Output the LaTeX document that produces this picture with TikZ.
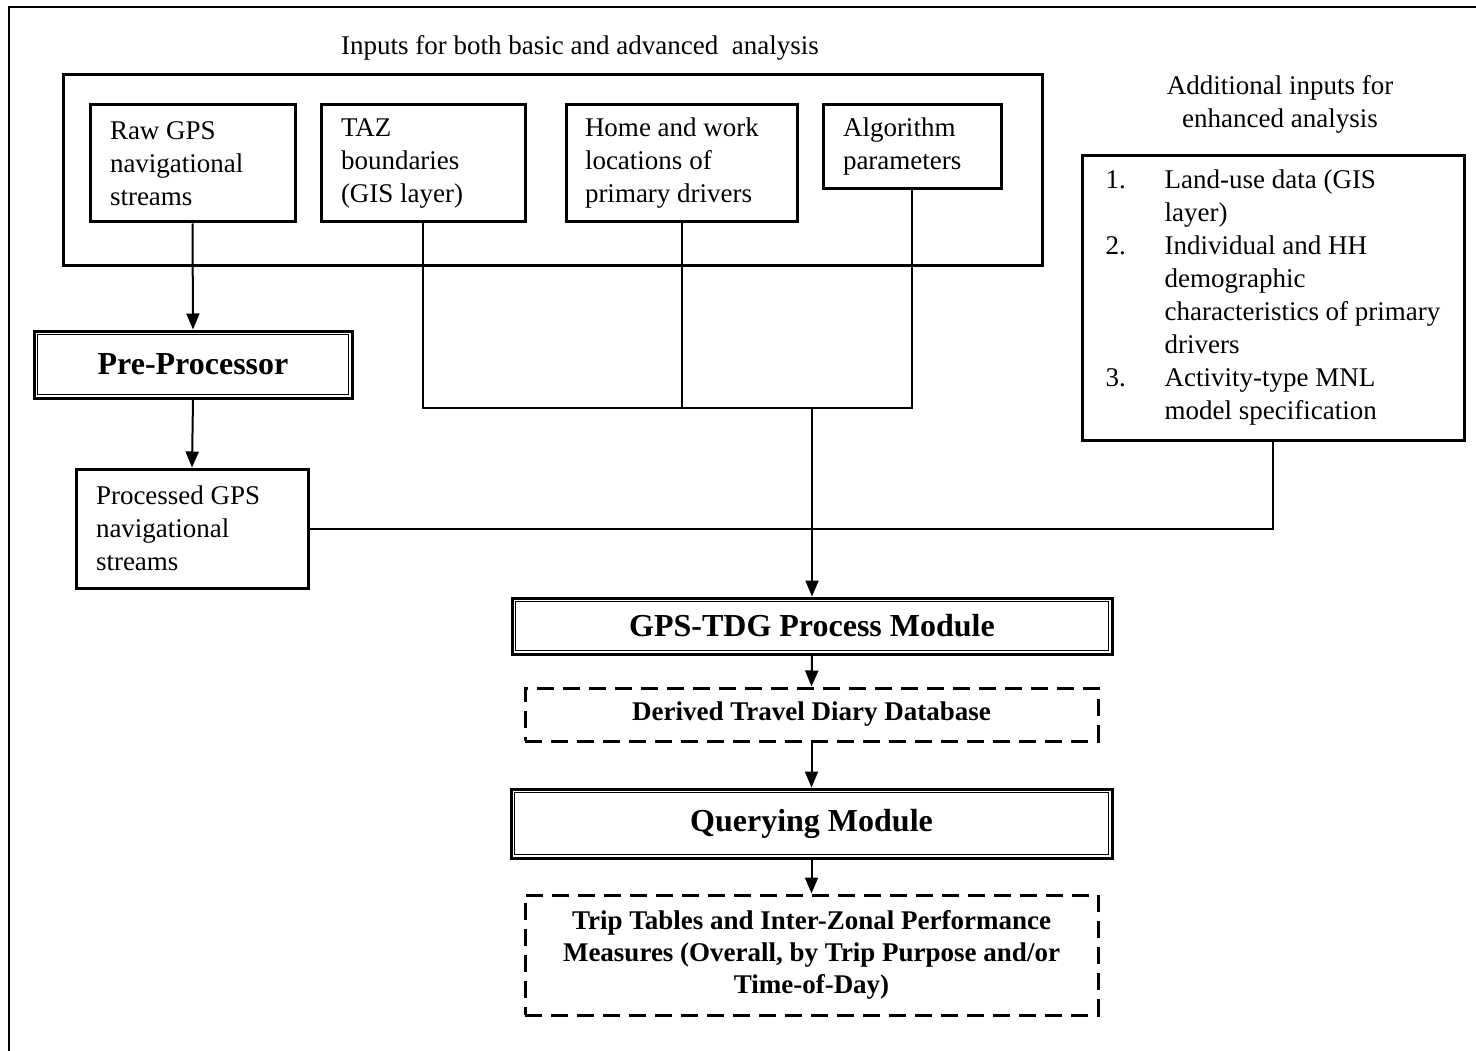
\documentclass[tikz,border=0pt]{standalone}
\usepackage{fontspec}
\setmainfont{Liberation Serif}
\usetikzlibrary{arrows.meta}

\begin{document}
\begin{tikzpicture}[x=1pt, y=-1pt,
    every node/.style={inner sep=0pt, font=\fontsize{27}{33}\selectfont},
    inbox/.style={draw, line width=3pt, align=flush left},
    module/.style={draw, line width=3pt, font=\bfseries\fontsize{32}{38}\selectfont,
        append after command={\pgfextra{\draw[line width=1.5pt]
            ([shift={(5,5)}]\tikzlastnode.north west) rectangle
            ([shift={(-5,-5)}]\tikzlastnode.south east);}}},
    dashbox/.style={draw, line width=3pt, dash pattern=on 17pt off 9pt,
        align=center, font=\bfseries\fontsize{27}{32}\selectfont},
    link/.style={draw, line width=2pt},
    arr/.style={link, -{Triangle[width=13pt,length=16pt]}}
]
    \useasboundingbox (0,0) rectangle (1476,1051);
    \draw[line width=2pt] (9,1051) -- (9,7) -- (1476,7);

    % Inputs for both basic and advanced analysis
    \node (basictitle) at (580,48) {Inputs for both basic and advanced\ \ analysis};
    \node[draw, line width=3pt, minimum width=979pt, minimum height=191pt] (basic) at (552.5,170.5) {};
    \node[inbox, minimum width=205pt, minimum height=117pt, text width=165pt] (raw) at (192.5,163.5)
        {Raw GPS\\navigational\\streams};
    \node[inbox, minimum width=204pt, minimum height=117pt, text width=164pt] (taz) at (423,163.5)
        {TAZ\\boundaries\\(GIS layer)};
    \node[inbox, minimum width=231pt, minimum height=117pt, text width=193pt] (home) at (681.5,163.5)
        {Home and work\\locations of\\primary drivers};
    \node[inbox, minimum width=178pt, minimum height=84pt, text width=138pt] (algo) at (912,147)
        {Algorithm\\parameters};

    % Additional inputs for enhanced analysis
    \node[align=center] (extratitle) at (1280,104) {Additional inputs for\\enhanced analysis};
    \node[inbox, minimum width=382pt, minimum height=284pt] (extra) at (1273,298)
        {\makebox[59pt][l]{1.}Land-use data (GIS\\\hspace*{59pt}layer)\\
         \makebox[59pt][l]{2.}Individual and HH\\\hspace*{59pt}demographic\\
         \hspace*{59pt}characteristics of primary\\\hspace*{59pt}drivers\\
         \makebox[59pt][l]{3.}Activity-type MNL\\\hspace*{59pt}model specification};

    % Pre-processing
    \node[module, minimum width=318pt, minimum height=67pt] (pre) at (193,364.5) {Pre-Processor};
    \node[inbox, minimum width=232pt, minimum height=119pt, text width=192pt] (proc) at (192,528.5)
        {Processed GPS\\navigational\\streams};

    % Modules and outputs
    \node[module, minimum width=600pt, minimum height=56pt] (gps) at (812,626) {GPS-TDG Process Module};
    \node[dashbox, minimum width=573pt, minimum height=53pt] (diary) at (811.5,714.5)
        {Derived Travel Diary Database};
    \node[module, minimum width=601pt, minimum height=69pt] (query) at (811.5,823.5) {Querying Module};
    \node[dashbox, minimum width=573pt, minimum height=120pt] (trips) at (811.5,955)
        {Trip Tables and Inter-Zonal Performance\\Measures (Overall, by Trip Purpose and/or\\Time-of-Day)};

    % Connectors
    \coordinate (merge) at (812,408);
    \draw[arr] (raw.south) -- (pre.north);
    \draw[arr] (pre.south) -- (proc.north);
    \draw[link] (taz.south) |- (merge);
    \draw[link] (home.south) -- (home.south |- merge);
    \draw[link] (algo.south) |- (merge);
    \draw[arr] (merge) -- (gps.north);
    \draw[link] (proc.east) -| (extra.south);
    \draw[arr] (gps.south) -- (diary.north);
    \draw[arr] (diary.south) -- (query.north);
    \draw[arr] (query.south) -- (trips.north);
\end{tikzpicture}
\end{document}
